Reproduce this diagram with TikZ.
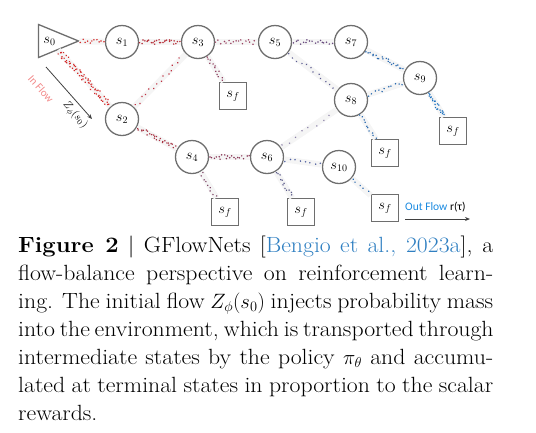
\documentclass[tikz,border=0pt]{standalone}
\usepackage{fontspec}
\newfontfamily\calib{Carlito}
\newfontfamily\capfont{Latin Modern Roman}[FakeStretch=1.08]
\usetikzlibrary{shapes.geometric,decorations.markings,arrows.meta}
\definecolor{cite}{HTML}{2F7FC1}
\definecolor{nodegray}{HTML}{6E6E6E}
\definecolor{inflow}{HTML}{F28A8A}
\definecolor{outflow}{HTML}{1A8AE0}
\definecolor{c01}{HTML}{D42A2A}
\definecolor{c13}{HTML}{B8303A}
\definecolor{c23}{HTML}{C03040}
\definecolor{c24}{HTML}{A83040}
\definecolor{c35}{HTML}{9A4060}
\definecolor{c3f}{HTML}{904060}
\definecolor{c46}{HTML}{8A3858}
\definecolor{c4f}{HTML}{804868}
\definecolor{c57}{HTML}{6A4C80}
\definecolor{c58}{HTML}{5A5A90}
\definecolor{c68}{HTML}{8A80A8}
\definecolor{c6f}{HTML}{5A5A8A}
\definecolor{c610}{HTML}{5060A0}
\definecolor{cblue}{HTML}{2A6AB0}
\definecolor{cblue2}{HTML}{1A70C0}
\begin{document}
\begin{tikzpicture}[x=1pt,y=-1pt,
  state/.style={circle,draw=nodegray,line width=1.3pt,fill=white,minimum size=33pt,inner sep=0pt,font=\fontsize{14}{16}\selectfont},
  term/.style={rectangle,draw=nodegray,line width=1.5pt,fill=white,minimum size=27pt,inner sep=0pt,font=\fontsize{14}{16}\selectfont},
  band/.style={draw=black!4,line width=6pt},
  trail/.style n args={3}{band,postaction={decorate,decoration={markings,
     mark=between positions 0.03 and 0.97 step #2 with {\fill[#1] ({rand*1pt},{rand*#3}) circle[radius=0.85pt];}}}},
  flowarrow/.style={draw=black!75,line width=0.8pt,-{Stealth[length=5pt,width=4pt]}},
  capline/.style={anchor=base west,inner sep=0pt,font=\capfont\fontsize{22}{28}\selectfont}
]
\pgfmathsetseed{7}
\useasboundingbox (0,0) rectangle (536,432);
% nodes
\node[isosceles triangle,isosceles triangle stretches,minimum width=33pt,minimum height=40pt,inner sep=0pt,draw=nodegray,line width=1.3pt,fill=white,font=\fontsize{14}{16}\selectfont] (s0) at (49.5,41) {$s_0$};
\node[state] (s1) at (122,42) {$s_1$};
\node[state] (s3) at (198,42) {$s_3$};
\node[state] (s5) at (275,42) {$s_5$};
\node[state] (s7) at (351,42) {$s_7$};
\node[state] (s2) at (122,119) {$s_2$};
\node[state] (s4) at (192,157) {$s_4$};
\node[state] (s6) at (267,157) {$s_6$};
\node[state] (s8) at (351,100) {$s_8$};
\node[state] (s9) at (420,78) {$s_9$};
\node[state] (s10) at (339,167) {$s_{10}$};
\node[term] (f1) at (233,96) {$s_f$};
\node[term] (f2) at (225,212) {$s_f$};
\node[term] (f3) at (301,212) {$s_f$};
\node[term] (f4) at (385,153) {$s_f$};
\node[term] (f5) at (453,131) {$s_f$};
\node[term] (f6) at (385,208) {$s_f$};
% trails
\draw[trail={c01}{2.4pt}{2.2pt}] (s0) -- (s1);
\draw[trail={c01}{1.1pt}{3pt}] (s0) -- (s2);
\draw[trail={c13}{1.5pt}{2.2pt}] (s1) -- (s3);
\draw[trail={c23}{5pt}{2.5pt}] (s2) -- (s3);
\draw[trail={c24}{1.6pt}{2.2pt}] (s2) -- (s4);
\draw[trail={c35}{2.4pt}{2.2pt}] (s3) -- (s5);
\draw[trail={c3f}{2.2pt}{2pt}] (s3) -- (f1);
\draw[trail={c46}{2pt}{2.2pt}] (s4) -- (s6);
\draw[trail={c4f}{3.5pt}{2pt}] (s4) -- (f2);
\draw[trail={c57}{2.4pt}{2.2pt}] (s5) -- (s7);
\draw[trail={c58}{5pt}{2.5pt}] (s5) -- (s8);
\draw[trail={c68}{8pt}{2.5pt}] (s6) -- (s8);
\draw[trail={c6f}{2.5pt}{2.2pt}] (s6) -- (f3);
\draw[trail={c610}{5pt}{2pt}] (s6) -- (s10);
\draw[trail={cblue}{2pt}{2.5pt}] (s7) -- (s9);
\draw[trail={cblue}{3.5pt}{2.2pt}] (s8) -- (s9);
\draw[trail={cblue}{3pt}{2pt}] (s8) -- (f4);
\draw[trail={cblue2}{1.3pt}{2.5pt}] (s9) -- (f5);
\draw[trail={cblue}{5pt}{2pt}] (s10) -- (f6);
% in flow
\coordinate (inA) at (46,67);
\coordinate (inB) at (92,119);
\draw[flowarrow] (inA) -- (inB);
\node[rotate=-48.5,text=inflow,font=\calib\fontsize{11}{13}\selectfont,inner sep=0pt] (inlab) at (41,89) {In Flow};
\node[rotate=-48.5,font=\fontsize{11}{13}\selectfont,inner sep=0pt] (zlab) at (75,115) {$Z_\phi(s_0)$};
% out flow
\node[anchor=west,font=\calib\fontsize{11.5}{13}\selectfont,inner sep=0pt] (outlab) at (405,207) {\textcolor{outflow}{Out Flow} r(τ)};
\coordinate (outA) at (405,219);
\coordinate (outB) at (470,219);
\draw[flowarrow,line width=0.9pt] (outA) -- (outB);
% caption
\node[capline] (cap1) at (18,252) {\makebox[475pt][s]{\textbf{Figure 2} | GFlowNets [{\color{cite}Bengio et al., 2023a}], a}};
\node[capline] (cap2) at (18,280) {\makebox[475pt][s]{flow-balance perspective on reinforcement learn-}};
\node[capline] (cap3) at (18,308) {\makebox[475pt][s]{ing. The initial flow $Z_\phi(s_0)$ injects probability mass}};
\node[capline] (cap4) at (18,336) {\makebox[475pt][s]{into the environment, which is transported through}};
\node[capline] (cap5) at (18,364) {\makebox[475pt][s]{intermediate states by the policy $\pi_\theta$ and accumu-}};
\node[capline] (cap6) at (18,392) {\makebox[475pt][s]{lated at terminal states in proportion to the scalar}};
\node[capline] (cap7) at (18,420) {rewards.};
\end{tikzpicture}
\end{document}
